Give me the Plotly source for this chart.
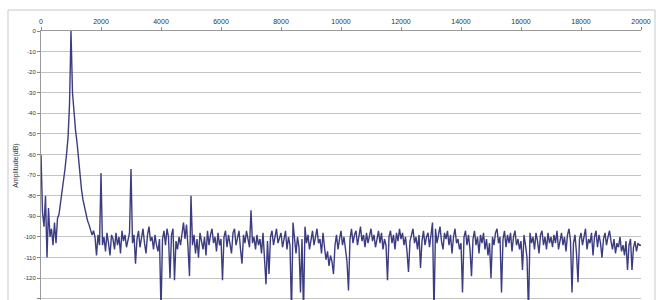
import plotly.graph_objects as go

# Frequency step (Hz) between samples and amplitude values (dB)
freq_step = 50
amplitude_db = [
    # 0 - 950 Hz
    -60, -88, -95, -80, -110, -86, -100, -96, -104, -93, -103, -91, -89, -84, -79, -73, -67, -60, -52, -36,
    # 1000 - 1950 Hz
    0, -30, -41, -48, -54, -62, -71, -77, -82, -86, -89, -92, -94, -96, -99, -97, -100, -109, -99, -104,
    # 2000 - 2950 Hz
    -69, -104, -100, -107, -98, -103, -109, -99, -101, -106, -98, -104, -100, -108, -97, -102, -99, -105, -101, -98,
    # 3000 - 3950 Hz
    -67, -103, -99, -113, -101, -97, -105, -100, -96, -103, -108, -99, -95, -102, -100, -106, -99, -104, -107, -101,
    # 4000 - 4950 Hz
    -136, -101, -97, -104, -96, -100, -120, -99, -96, -121, -102, -106, -100, -104, -98, -93, -101, -94, -105, -119,
    # 5000 - 5950 Hz
    -80, -104, -99, -108, -101, -110, -98, -103, -106, -100, -109, -97, -104, -99, -96, -103, -100, -107, -98, -104,
    # 6000 - 6950 Hz
    -101, -121, -100, -97, -105, -99, -103, -108, -98, -96, -104, -100, -97, -106, -113, -99, -103, -97, -101, -105,
    # 7000 - 7950 Hz
    -87, -103, -100, -106, -99, -104, -101, -108, -98, -110, -123, -102, -118, -100, -97, -104, -99, -96, -103, -100,
    # 8000 - 8950 Hz
    -98, -105, -101, -97, -106, -100, -104, -137, -93, -102, -108, -100, -105, -127, -101, -137, -95, -103, -99, -106,
    # 9000 - 9950 Hz
    -100, -97, -104, -99, -96, -103, -101, -108, -98, -105, -111, -107, -114, -109, -112, -118, -104, -99, -106, -101,
    # 10000 - 10950 Hz
    -97, -104, -100, -106, -112, -126, -101, -96, -103, -99, -97, -104, -100, -95, -102, -99, -105, -98, -103, -100,
    # 11000 - 11950 Hz
    -96, -102, -99, -105, -100, -97, -103, -98, -106, -101, -104, -121, -100, -97, -103, -99, -106, -98, -102, -96,
    # 12000 - 12950 Hz
    -101, -98, -104, -100, -107, -117, -102, -99, -96, -103, -100, -106, -99, -115, -102, -97, -104, -100, -98, -105,
    # 13000 - 13950 Hz
    -99, -93, -137, -96, -103, -99, -95, -102, -106, -98, -101, -97, -104, -99, -108, -100, -96, -103, -101, -106,
    # 14000 - 14950 Hz
    -103, -127, -100, -97, -104, -99, -106, -119, -101, -97, -104, -100, -108, -99, -103, -98, -106, -101, -109, -103,
    # 15000 - 15950 Hz
    -120, -100, -104, -98, -96, -103, -100, -127, -101, -97, -105, -99, -103, -98, -107, -100, -97, -104, -101, -106,
    # 16000 - 16950 Hz
    -102, -116, -99, -104, -110, -137, -98, -103, -100, -106, -98, -102, -108, -99, -97, -104, -100, -106, -98, -103,
    # 17000 - 17950 Hz
    -100, -105, -99, -103, -97, -106, -101, -98, -104, -100, -107, -99, -96, -102, -127, -103, -99, -108, -122, -101,
    # 18000 - 18950 Hz
    -98, -104, -100, -96, -106, -101, -103, -98, -109, -100, -97, -105, -99, -103, -110, -101, -98, -104, -100, -97,
    # 19000 - 20000 Hz
    -102, -106, -101, -108, -103, -105, -100, -107, -104, -109, -102, -116, -104, -101, -116, -105, -102, -107, -103, -104,
    -104,
]
frequency_hz = [i * freq_step for i in range(len(amplitude_db))]

x_tick_values = [0, 2000, 4000, 6000, 8000, 10000, 12000, 14000, 16000, 18000, 20000]
x_tick_labels = ["0", "2000", "4000", "6000", "8000", "10000", "12000", "14000", "16000", "18000", "20000"]
y_tick_values = [0, -10, -20, -30, -40, -50, -60, -70, -80, -90, -100, -110, -120, -130]
y_tick_labels = ["0", "-10", "-20", "-30", "-40", "-50", "-60", "-70", "-80", "-90", "-100", "-110", "-120", "-130"]
y_title = "Amplitude(dB)"

fig = go.Figure()
fig.add_trace(go.Scatter(
    x=frequency_hz, y=amplitude_db, mode="lines",
    line=dict(color="#3c3c80", width=1.4),
    showlegend=False, hoverinfo="skip",
))

font_family = "Liberation Sans, Arial, sans-serif"
fig.update_layout(
    width=656, height=300,
    margin=dict(l=41, r=15, t=31, b=0),
    paper_bgcolor="white", plot_bgcolor="white",
    font=dict(family=font_family, size=7, color="#333333"),
    shapes=[dict(type="rect", xref="paper", yref="paper",
                 x0=-33 / 600, x1=614 / 600, y0=-0.2, y1=1 + 21 / 269,
                 line=dict(color="#c8c8c8", width=1), layer="below")],
)
fig.update_xaxes(
    side="top", range=[0, 20000],
    tickvals=x_tick_values, ticktext=x_tick_labels,
    tickfont=dict(size=7, color="#333333"),
    ticks="outside", ticklen=3, tickcolor="#888888",
    showline=True, linecolor="#9a9a9a", linewidth=1,
    showgrid=False, zeroline=False,
)
fig.update_yaxes(
    range=[-130.6, 0],
    tickvals=y_tick_values, ticktext=y_tick_labels,
    tickfont=dict(size=6, color="#333333"),
    ticks="outside", ticklen=3, tickcolor="#888888",
    showline=True, linecolor="#9a9a9a", linewidth=1,
    showgrid=True, gridcolor="#c4c4c4", gridwidth=1,
    zeroline=False,
    title=dict(text=y_title, font=dict(size=7, color="#333333"), standoff=4),
    automargin=False,
)

fig.write_html(
    "out.html",
    config={"displayModeBar": False},
    post_script="document.body.style.margin='0';document.body.style.padding='0';",
)
